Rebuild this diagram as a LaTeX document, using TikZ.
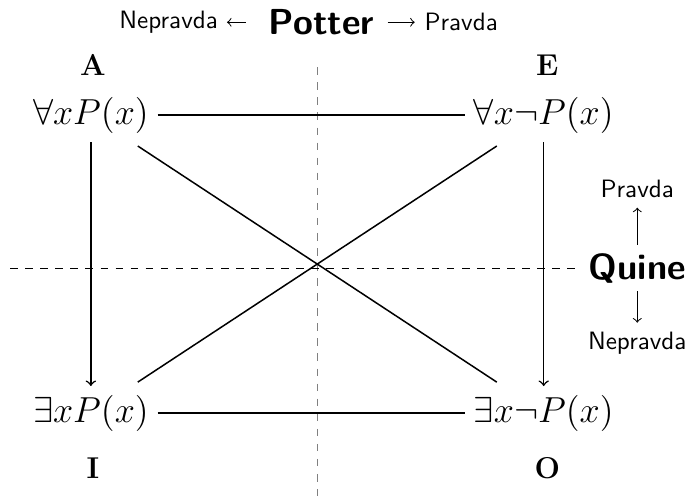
\documentclass[tikz,border=0pt]{standalone}
\usepackage{amsmath,amssymb}
\usetikzlibrary{positioning}

\begin{document}
\begin{tikzpicture}[
          >=to,
          stmt/.style={font=\fontsize{15.8}{18}\selectfont},
          corner/.style={font=\large\bfseries},
          author/.style={font=\Large\sffamily\bfseries,inner sep=0pt},
          value/.style={font=\sffamily,inner sep=0pt},
          square/.style={semithick},
          contrary/.style={thick},
          axis/.style={dashed,thin},
          imply/.style={->,semithick}
        ]
        \path[use as bounding box] (-4.452,-3.192) rectangle (5.208,3.752);

        % four statements of the square
        \node[stmt] (forall) at (-3.18,2.14) {$\forall x P(x)$};
        \node[stmt] (forallneg) at (3.16,2.14) {$\forall x \neg P(x)$};
        \node[stmt] (exists) at (-3.18,-2.03) {$\exists x P(x)$};
        \node[stmt] (existsneg) at (3.16,-2.03) {$\exists x \neg P(x)$};

        \node[corner] (labA) at (-3.15,2.84) {A};
        \node[corner] (labE) at (3.21,2.84) {E};
        \node[corner] (labI) at (-3.15,-2.80) {I};
        \node[corner] (labO) at (3.21,-2.80) {O};

        % readings
        \node[author] (potter) at (0.05,3.44) {Potter};
        \node[value,left=0.7cm of potter] (potterno) {Nepravda};
        \node[value,right=0.69cm of potter] (potteryes) {Pravda};
        \draw[->,shorten <=3.2mm,shorten >=1.2mm] (potter.west) -- (potterno.east);
        \draw[->,shorten <=1.8mm,shorten >=1.3mm] (potter.east) -- (potteryes.west);

        \node[author] (quine) at (4.47,0) {Quine};
        \node[value,above=0.76cm of quine] (quineyes) {Pravda};
        \node[value,below=0.68cm of quine] (quineno) {Nepravda};
        \draw[->,shorten <=1.1mm,shorten >=1.3mm] (quine) -- (quineyes);
        \draw[->,shorten <=1.1mm,shorten >=1.3mm] (quine) -- (quineno);

        % axes
        \coordinate (vtop) at (0,2.81);
        \coordinate (vbot) at (0,-3.192);
        \coordinate (hleft) at (-4.31,0);
        \draw[axis,gray] (vtop) -- (vbot);
        \draw[axis,shorten >=1.8mm] (hleft) -- (quine.west);

        % relations
        \draw[contrary] (forall) -- (forallneg);
        \draw[contrary] (exists) -- (existsneg);
        \draw[square,shorten <=1mm,shorten >=1mm] (forall) -- (existsneg);
        \draw[square,shorten <=1mm,shorten >=1mm] (forallneg) -- (exists);
        \draw[imply] (forall) -- (exists);
        \draw[imply] (forallneg) -- (existsneg);
      \end{tikzpicture}
\end{document}
